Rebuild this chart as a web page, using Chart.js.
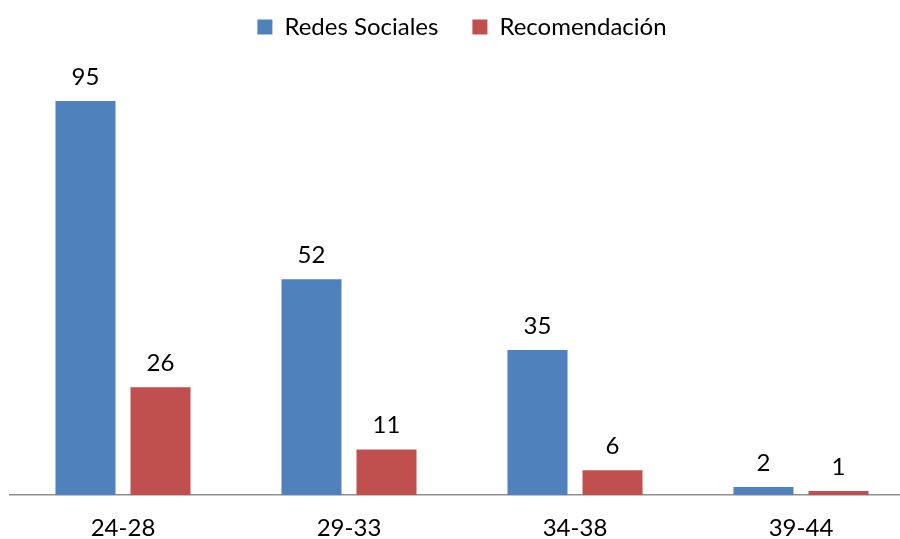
<!DOCTYPE html>
<html>
<head>
<meta charset="utf-8">
<script src="https://cdn.jsdelivr.net/npm/chart.js@4"></script>
<style>
html,body{margin:0;padding:0;background:#fff;overflow:hidden;}
#wrap{width:914px;height:539px;}
</style>
</head>
<body>
<div id="wrap"><canvas id="c" width="914" height="539"></canvas></div>
<script>
const categories = ["24-28", "29-33", "34-38", "39-44"];
const redesSociales = [95, 52, 35, 2];
const recomendacion = [26, 11, 6, 1];
const seriesNames = ["Redes Sociales", "Recomendación"];

const FONT = "Lato, 'Open Sans', sans-serif";

const valueLabels = {
  id: 'valueLabels',
  afterDatasetsDraw(chart) {
    const ctx = chart.ctx;
    ctx.save();
    ctx.fillStyle = '#000';
    ctx.font = '24px ' + FONT;
    ctx.textAlign = 'center';
    ctx.textBaseline = 'bottom';
    chart.data.datasets.forEach((ds, i) => {
      chart.getDatasetMeta(i).data.forEach((bar, j) => {
        ctx.fillText(String(ds.data[j]), bar.x, bar.y - 12);
      });
    });
    ctx.restore();
  }
};

new Chart(document.getElementById('c'), {
  type: 'bar',
  data: {
    labels: categories,
    datasets: [
      { label: seriesNames[0], data: redesSociales, backgroundColor: '#4F81BD' },
      { label: seriesNames[1], data: recomendacion, backgroundColor: '#C0504D' }
    ]
  },
  options: {
    responsive: false,
    animation: false,
    devicePixelRatio: 1,
    categoryPercentage: 0.664,
    barPercentage: 0.8,
    layout: { padding: { left: 10, right: 0, top: -19, bottom: -23 } },
    plugins: {
      legend: {
        position: 'top',
        labels: {
          boxWidth: 15, boxHeight: 15,
          color: '#000',
          font: { family: FONT, size: 24 },
          padding: 34
        }
      },
      tooltip: { enabled: false },
      title: { display: false }
    },
    scales: {
      x: {
        grid: { display: false, drawTicks: false },
        border: { display: true, color: '#8f8f8f', width: 1.5 },
        ticks: { color: '#000', font: { family: FONT, size: 24 }, padding: 19 }
      },
      y: {
        display: false,
        min: 0,
        max: 107.5
      }
    }
  },
  plugins: [valueLabels]
});
</script>
</body>
</html>
